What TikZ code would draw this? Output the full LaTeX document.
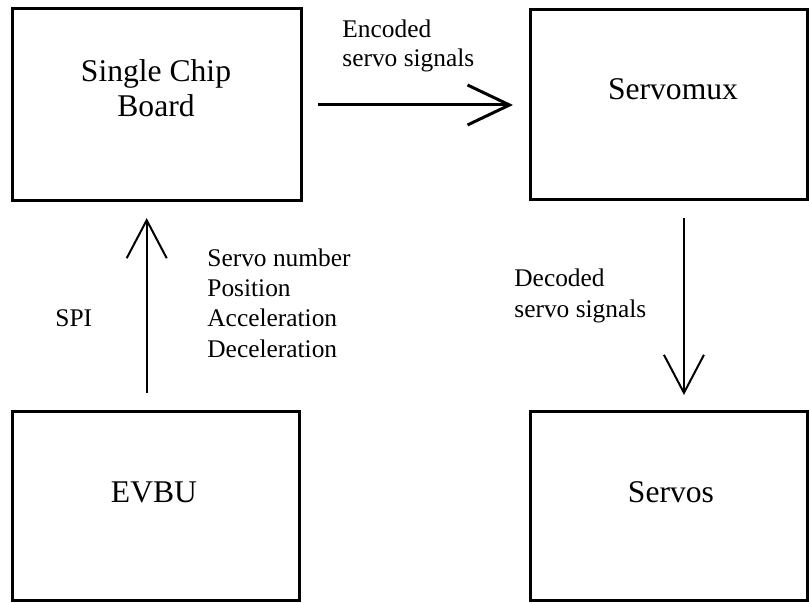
\documentclass[tikz,border=0pt]{standalone}
\usepackage{fontspec}
\setmainfont{Liberation Serif}
\usetikzlibrary{arrows.meta}

\tikzset{
  block/.style={draw, line width=1.5pt, rectangle, inner sep=0pt, outer sep=0pt},
  bigtext/.style={font=\fontsize{15.8pt}{19pt}\selectfont, inner sep=0pt, anchor=base},
  smalltext/.style={font=\fontsize{12.7pt}{15pt}\selectfont, inner sep=0pt, anchor=base west},
  flow/.style={line width=1pt, -{Straight Barb[length=19pt, width=20pt]}},
  bigflow/.style={line width=1.5pt, -{Straight Barb[length=21pt, width=20pt]}}
}

\begin{document}
\begin{tikzpicture}[x=0.5pt, y=-0.5pt]
  \useasboundingbox (0,0) rectangle (809,603);

  % the four units
  \node[block, minimum width=144.5pt, minimum height=95.85pt] (scb) at (157.2,104.2) {};
  \node[block, minimum width=138.75pt, minimum height=95pt] (mux) at (668.75,105) {};
  \node[block, minimum width=143.5pt, minimum height=94.5pt] (evbu) at (155.5,506.5) {};
  \node[block, minimum width=138.75pt, minimum height=94.5pt] (servos) at (668.75,506.5) {};

  % unit names
  \node[bigtext] (scb1) at (156,82) {Single Chip};
  \node[bigtext] (scb2) at (156,117) {Board};
  \node[bigtext] (muxname) at (673,100) {Servomux};
  \node[bigtext] (evbuname) at (154,503) {EVBU};
  \node[bigtext] (servosname) at (671,503) {Servos};

  % signal paths
  \draw[bigflow, shorten <=8.15pt, shorten >=8.5pt]
    (scb.east |- 0,105) -- (mux.west |- 0,105);
  \draw[flow, shorten <=9.5pt, shorten >=9pt]
    ([xshift=-4.4pt]evbu.north) -- ([xshift=-4.4pt]evbu.north |- scb.south);
  \draw[flow, shorten <=9pt, shorten >=8.5pt]
    ([xshift=7.6pt]mux.south) -- ([xshift=7.6pt]mux.south |- servos.north);

  % path labels
  \node[smalltext] (enc1) at (342,38) {Encoded};
  \node[smalltext] (enc2) at (342,67) {servo signals};

  \node[smalltext] (par1) at (207,267) {Servo number};
  \node[smalltext] (par2) at (207,297) {Position};
  \node[smalltext] (par3) at (207,327) {Acceleration};
  \node[smalltext] (par4) at (207,358) {Deceleration};

  \node[smalltext] (spi) at (55,327) {SPI};

  \node[smalltext] (dec1) at (514,287) {Decoded};
  \node[smalltext] (dec2) at (514,318) {servo signals};
\end{tikzpicture}
\end{document}
